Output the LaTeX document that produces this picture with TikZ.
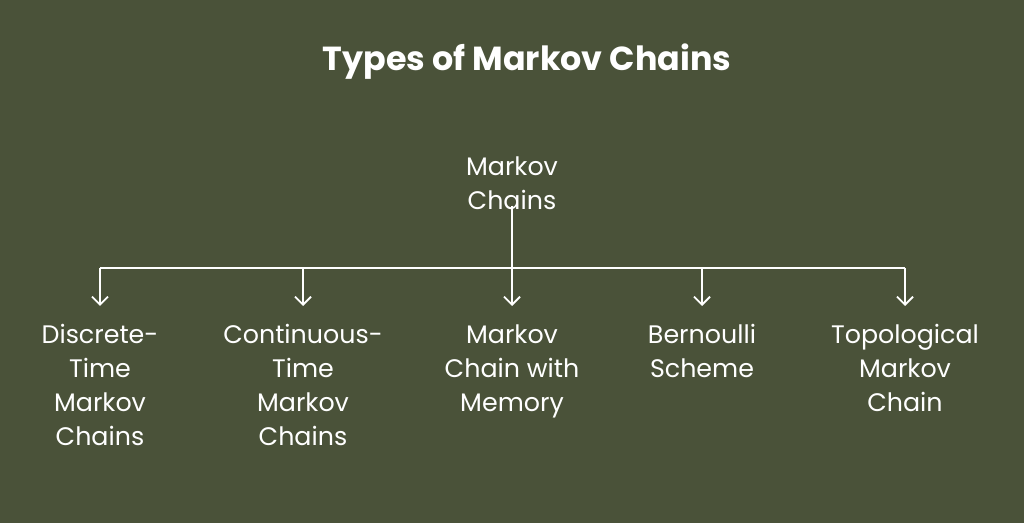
\documentclass[tikz,border=0pt]{standalone}
\usepackage{fontspec}
\setmainfont{Poppins}
\usetikzlibrary{arrows.meta}
\definecolor{boardgreen}{HTML}{4A5239}
\tikzset{
  leaf/.style={text=white, align=center, anchor=north, font=\fontsize{19}{25.5}\selectfont, inner sep=0pt},
  link/.style={draw=white, line width=1.4pt},
  tip/.style={link, -{Straight Barb[length=6pt,width=12pt]}}
}
\begin{document}
\begin{tikzpicture}[x=0.75pt, y=-0.75pt]

    \fill [boardgreen] (0,0) rectangle (1024,523);
    \useasboundingbox (0,0) rectangle (1024,523);

    \node [text=white, font=\fontsize{25}{30}\selectfont\bfseries] (title) at (527,62) {Types of Markov Chains};

    \node [leaf] (root) at (512,156) {Markov\\Chains};

    \node [leaf] (discrete) at (100,324) {Discrete-\\Time\\Markov\\Chains};
    \node [leaf] (continuous) at (303,324) {Continuous-\\Time\\Markov\\Chains};
    \node [leaf] (memory) at (512,324) {Markov\\Chain with\\Memory};
    \node [leaf] (bernoulli) at (702,324) {Bernoulli\\Scheme};
    \node [leaf] (topological) at (905,324) {Topological\\Markov\\Chain};

    \coordinate (fork) at (512,268);
    \draw [link] (root.south) ++(0,-4) -- (fork);
    \draw [link] (100,268) -- (905,268);

    \foreach \child in {discrete, continuous, memory, bernoulli, topological}
        \draw [tip] (\child.north |- fork) -- ++(0,38);

\end{tikzpicture}
\end{document}
